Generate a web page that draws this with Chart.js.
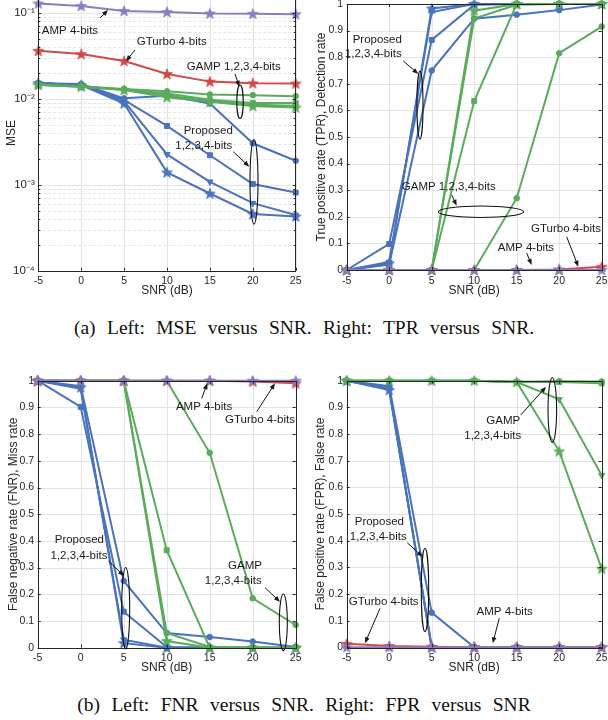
<!DOCTYPE html>
<html><head><meta charset="utf-8">
<script src="https://cdn.jsdelivr.net/npm/chart.js@4.4.1/dist/chart.umd.min.js"></script>
<style>
html,body{margin:0;padding:0;background:#fff;overflow:hidden;width:608px;height:720px;position:relative;}
.pane{position:absolute;}
.cap{position:absolute;left:0;width:608px;text-align:center;font-family:"Liberation Serif","Times New Roman",serif;font-size:19.5px;line-height:22px;color:#111;word-spacing:6.5px;white-space:nowrap;}
</style></head><body>
<div class="pane" style="left:0;top:-20px"><canvas id="c1" width="310" height="320"></canvas></div>
<div class="pane" style="left:300px;top:-20px"><canvas id="c2" width="320" height="320"></canvas></div>
<div class="pane" style="left:0;top:350px"><canvas id="c3" width="310" height="330"></canvas></div>
<div class="pane" style="left:300px;top:350px"><canvas id="c4" width="320" height="330"></canvas></div>
<div class="cap" style="top:317px">(a) Left: MSE versus SNR. Right: TPR versus SNR.</div>
<div class="cap" style="top:694px">(b) Left: FNR versus SNR. Right: FPR versus SNR</div>
<script>
// ---------- data ----------
const snr = [-5, 0, 5, 10, 15, 20, 25];
const snrTickLabels = ['-5', '0', '5', '10', '15', '20', '25'];
const mseTickValues = [1e-4, 1e-3, 1e-2, 1e-1];
const mseTickLabels = ['10\u207B\u2074', '10\u207B\u00B3', '10\u207B\u00B2', '10\u207B\u00B9'];
const rateTickValues = [0, 0.1, 0.2, 0.3, 0.4, 0.5, 0.6, 0.7, 0.8, 0.9, 1];
const rateTickLabels = ['0', '0.1', '0.2', '0.3', '0.4', '0.5', '0.6', '0.7', '0.8', '0.9', '1'];

// MSE
const mseAMP    = [0.128, 0.120, 0.105, 0.102, 0.098, 0.097, 0.096];
const mseGTurbo = [0.036, 0.033, 0.0274, 0.0194, 0.0158, 0.0151, 0.0150];
const mseGAMP1  = [0.0146, 0.0140, 0.0130, 0.0122, 0.0112, 0.0110, 0.0107];
const mseGAMP2  = [0.0145, 0.0139, 0.0128, 0.0115, 0.0097, 0.0089, 0.0089];
const mseGAMP3  = [0.0145, 0.0138, 0.0127, 0.0109, 0.0094, 0.0085, 0.0083];
const mseGAMP4  = [0.0144, 0.0138, 0.0126, 0.0104, 0.0092, 0.0082, 0.0079];
const mseProp1  = [0.0151, 0.0148, 0.0101, 0.0108, 0.0088, 0.00303, 0.0019];
const mseProp2  = [0.0151, 0.0145, 0.0097, 0.00482, 0.0022, 0.00102, 0.00081];
const mseProp3  = [0.0151, 0.0144, 0.0093, 0.00225, 0.00108, 0.00061, 0.000445];
const mseProp4  = [0.0151, 0.0144, 0.0088, 0.00139, 0.00079, 0.000457, 0.000427];

// TPR
const tprAMP    = [0, 0, 0, 0, 0, 0, 0];
const tprGTurbo = [0, 0, 0, 0, 0, 0.002, 0.012];
const tprGAMP1  = [0, 0, 0, 0, 0.27, 0.815, 0.915];
const tprGAMP2  = [0, 0, 0, 0.635, 1, 1, 1];
const tprGAMP3  = [0, 0, 0, 0.945, 0.997, 1, 1];
const tprGAMP4  = [0, 0, 0, 0.975, 1, 1, 1];
const tprProp1  = [0, 0.02, 0.75, 0.945, 0.96, 0.977, 0.998];
const tprProp2  = [0, 0.098, 0.865, 0.997, 1, 1, 1];
const tprProp3  = [0, 0.03, 0.97, 1, 1, 1, 1];
const tprProp4  = [0, 0.025, 0.983, 1, 1, 1, 1];

// FNR
const fnrAMP    = [1, 1, 1, 1, 1, 1, 1];
const fnrGTurbo = [1, 1, 1, 1, 1, 0.997, 0.99];
const fnrGAMP1  = [1, 1, 1, 1, 0.73, 0.185, 0.085];
const fnrGAMP2  = [1, 1, 1, 0.365, 0, 0, 0];
const fnrGAMP3  = [1, 1, 1, 0.055, 0.003, 0, 0];
const fnrGAMP4  = [1, 1, 1, 0.025, 0, 0, 0];
const fnrProp1  = [1, 0.98, 0.25, 0.055, 0.04, 0.023, 0.003];
const fnrProp2  = [1, 0.902, 0.135, 0.003, 0, 0, 0];
const fnrProp3  = [1, 0.97, 0.03, 0, 0, 0, 0];
const fnrProp4  = [1, 0.975, 0.017, 0, 0, 0, 0];

// FPR
const fprAMP    = [0, 0, 0, 0, 0, 0, 0];
const fprGTurbo = [0.013, 0.005, 0.002, 0, 0, 0, 0];
const fprGAMP1  = [1, 1, 1, 1, 0.996, 0.998, 0.997];
const fprGAMP2  = [1, 1, 1, 1, 0.995, 0.995, 0.99];
const fprGAMP3  = [1, 1, 1, 1, 0.995, 0.93, 0.645];
const fprGAMP4  = [1, 1, 1, 1, 0.995, 0.735, 0.295];
const fprProp1  = [1, 0.98, 0.13, 0, 0, 0, 0];
const fprProp2  = [1, 0.975, 0, 0, 0, 0, 0];
const fprProp3  = [1, 0.97, 0, 0, 0, 0, 0];
const fprProp4  = [1, 0.965, 0, 0, 0, 0, 0];

// annotations (data coordinates)
const annotMSE = [
  {t:'text', x:-1.31, y:0.0618, s:'AMP 4-bits'},
  {t:'arrow', x1:2.19, y1:0.0867, x2:3.12, y2:0.1075},
  {t:'text', x:10.55, y:0.0453, s:'GTurbo 4-bits'},
  {t:'arrow', x1:6.27, y1:0.0368, x2:5.22, y2:0.0274},
  {t:'text', x:17.79, y:0.0236, s:'GAMP 1,2,3,4-bits'},
  {t:'arrow', x1:17.93, y1:0.01937, x2:18.43, y2:0.0138},
  {t:'ellipse', x:18.51, y:0.00923, rx:3.2, ry:16.7},
  {t:'text', x:14.81, y:0.00421, s:'Proposed'},
  {t:'text', x:14.28, y:0.00284, s:'1,2,3,4-bits'},
  {t:'arrow', x1:17.73, y1:0.00242, x2:19.59, y2:0.00162},
  {t:'ellipse', x:20.14, y:0.00108, rx:4, ry:42.3}
];
const annotTPR = [
  {t:'text', x:-1.4, y:0.867, s:'Proposed'},
  {t:'text', x:-1.87, y:0.811, s:'1,2,3,4-bits'},
  {t:'arrow', x1:1.66, y1:0.786, x2:3.42, y2:0.737},
  {t:'ellipse', x:3.62, y:0.62, rx:3, ry:34},
  {t:'text', x:7.01, y:0.311, s:'GAMP 1,2,3,4-bits'},
  {t:'arrow', x1:7.35, y1:0.282, x2:7.94, y2:0.242},
  {t:'ellipse', x:10.8, y:0.219, rx:42.7, ry:5.7},
  {t:'text', x:20.8, y:0.155, s:'GTurbo 4-bits'},
  {t:'arrow', x1:20.88, y1:0.125, x2:22.25, y2:0.0124},
  {t:'text', x:16.09, y:0.085, s:'AMP 4-bits'},
  {t:'arrow', x1:16.18, y1:0.063, x2:16.76, y2:0.019}
];
const annotFNR = [
  {t:'text', x:14.34, y:0.903, s:'AMP 4-bits'},
  {t:'arrow', x1:14.07, y1:0.934, x2:14.72, y2:0.99},
  {t:'text', x:20.85, y:0.853, s:'GTurbo 4-bits'},
  {t:'arrow', x1:20.47, y1:0.884, x2:22.59, y2:0.99},
  {t:'text', x:-0.16, y:0.403, s:'Proposed'},
  {t:'text', x:-0.2, y:0.345, s:'1,2,3,4-bits'},
  {t:'arrow', x1:3.21, y1:0.325, x2:5.03, y2:0.269},
  {t:'ellipse', x:5.23, y:0.148, rx:4, ry:40.7},
  {t:'text', x:19.1, y:0.306, s:'GAMP'},
  {t:'text', x:17.74, y:0.25, s:'1,2,3,4-bits'},
  {t:'arrow', x1:21.43, y1:0.225, x2:23.17, y2:0.172},
  {t:'ellipse', x:23.56, y:0.095, rx:4, ry:28.3}
];
const annotFPR = [
  {t:'text', x:13.42, y:0.849, s:'GAMP'},
  {t:'text', x:12.18, y:0.793, s:'1,2,3,4-bits'},
  {t:'arrow', x1:15.47, y1:0.871, x2:18.45, y2:0.977},
  {t:'ellipse', x:19.19, y:0.89, rx:4.3, ry:32.3},
  {t:'text', x:-1.16, y:0.469, s:'Proposed'},
  {t:'text', x:-1.28, y:0.415, s:'1,2,3,4-bits'},
  {t:'arrow', x1:2.13, y1:0.392, x2:3.94, y2:0.34},
  {t:'ellipse', x:4.21, y:0.215, rx:3.7, ry:41.7},
  {t:'text', x:-0.65, y:0.171, s:'GTurbo 4-bits'},
  {t:'arrow', x1:-1.08, y1:0.146, x2:-2.85, y2:0.015},
  {t:'text', x:13.59, y:0.134, s:'AMP 4-bits'},
  {t:'arrow', x1:12.95, y1:0.109, x2:12.18, y2:0.015}
];

// ---------- styles ----------
const BLUE = '#4a72bd', GREEN = '#5aab5c', RED = '#d04a4a', PURPLE = '#8a7cc2';
const INK = '#262626';
const FONT = '"Liberation Sans", Arial, Helvetica, sans-serif';

function starImage(color) {
  const c = document.createElement('canvas');
  c.width = 12; c.height = 12;
  const g = c.getContext('2d');
  g.beginPath();
  for (let k = 0; k < 10; k++) {
    const r = k % 2 === 0 ? 5.6 : 2.3;
    const a = -Math.PI / 2 + k * Math.PI / 5;
    const px = 6 + r * Math.cos(a), py = 6.4 + r * Math.sin(a);
    if (k === 0) g.moveTo(px, py); else g.lineTo(px, py);
  }
  g.closePath();
  g.fillStyle = color; g.fill();
  g.strokeStyle = color; g.lineWidth = 0.8; g.stroke();
  return c;
}
const MK = {
  circle: {style: 'circle', r: 2.8, rot: 0},
  square: {style: 'rect', r: 3.5, rot: 0},
  tri: {style: 'triangle', r: 3.6, rot: 180}
};
function series(label, vals, color, mk) {
  const star = mk === 'star';
  const m = star ? {style: starImage(color), r: 5, rot: 0} : MK[mk];
  return {
    label, data: vals.map((v, i) => ({x: snr[i], y: v})),
    borderColor: color, backgroundColor: color, borderWidth: 2,
    pointStyle: m.style, pointRadius: m.r, pointRotation: m.rot,
    pointBackgroundColor: color, pointBorderColor: color, pointBorderWidth: 1,
    tension: 0, clip: false
  };
}
function datasets(amp, gt, g1, g2, g3, g4, p1, p2, p3, p4) {
  return [
    series('AMP 4-bits', amp, PURPLE, 'star'),
    series('GTurbo 4-bits', gt, RED, 'star'),
    series('GAMP 4-bits', g4, GREEN, 'star'),
    series('GAMP 3-bits', g3, GREEN, 'tri'),
    series('GAMP 2-bits', g2, GREEN, 'square'),
    series('GAMP 1-bit', g1, GREEN, 'circle'),
    series('Proposed 4-bits', p4, BLUE, 'star'),
    series('Proposed 3-bits', p3, BLUE, 'tri'),
    series('Proposed 2-bits', p2, BLUE, 'square'),
    series('Proposed 1-bit', p1, BLUE, 'circle')
  ];
}

// ---------- plugins ----------
const framePlugin = {
  id: 'frame',
  beforeDatasetsDraw(chart, args, opts) {
    const {ctx, chartArea: a, scales: {x, y}} = chart;
    ctx.save();
    ctx.lineWidth = 1;
    ctx.strokeStyle = '#e4e4e4';
    x.ticks.forEach(t => {
      const px = Math.round(x.getPixelForValue(t.value)) + 0.5;
      ctx.beginPath(); ctx.moveTo(px, a.top); ctx.lineTo(px, a.bottom); ctx.stroke();
    });
    y.ticks.forEach(t => {
      const py = Math.round(y.getPixelForValue(t.value)) + 0.5;
      ctx.beginPath(); ctx.moveTo(a.left, py); ctx.lineTo(a.right, py); ctx.stroke();
    });
    if (opts.minor) {
      ctx.strokeStyle = '#e6e6e6';
      ctx.setLineDash([3, 2]);
      opts.minor.forEach(v => {
        const py = Math.round(y.getPixelForValue(v)) + 0.5;
        ctx.beginPath(); ctx.moveTo(a.left, py); ctx.lineTo(a.right, py); ctx.stroke();
      });
      ctx.setLineDash([]);
    }
    ctx.restore();
  },
  afterDatasetsDraw(chart, args, opts) {
    const {ctx, chartArea: a, scales: {x, y}} = chart;
    ctx.save();
    ctx.strokeStyle = INK; ctx.lineWidth = 1;
    x.ticks.forEach(t => {
      const px = Math.round(x.getPixelForValue(t.value)) + 0.5;
      ctx.beginPath(); ctx.moveTo(px, a.bottom); ctx.lineTo(px, a.bottom - 3);
      ctx.moveTo(px, a.top); ctx.lineTo(px, a.top + 3); ctx.stroke();
    });
    y.ticks.forEach(t => {
      const py = Math.round(y.getPixelForValue(t.value)) + 0.5;
      ctx.beginPath(); ctx.moveTo(a.left, py); ctx.lineTo(a.left + 3, py);
      ctx.moveTo(a.right, py); ctx.lineTo(a.right - 3, py); ctx.stroke();
    });
    if (opts.minor) {
      opts.minor.forEach(v => {
        const py = Math.round(y.getPixelForValue(v)) + 0.5;
        ctx.beginPath(); ctx.moveTo(a.left, py); ctx.lineTo(a.left + 2, py);
        ctx.moveTo(a.right, py); ctx.lineTo(a.right - 2, py); ctx.stroke();
      });
    }
    ctx.strokeRect(Math.round(a.left) + 0.5, Math.round(a.top) + 0.5,
                   Math.round(a.right - a.left), Math.round(a.bottom - a.top));
    ctx.restore();
  },
  afterDraw(chart, args, opts) {
    const items = opts.items || [];
    const {ctx, scales: {x, y}} = chart;
    ctx.save();
    ctx.fillStyle = '#1a1a1a'; ctx.strokeStyle = '#111';
    ctx.font = '11.5px ' + FONT;
    ctx.textAlign = 'center'; ctx.textBaseline = 'middle';
    items.forEach(it => {
      if (it.t === 'text') {
        ctx.fillText(it.s, x.getPixelForValue(it.x), y.getPixelForValue(it.y));
      } else if (it.t === 'arrow') {
        const x1 = x.getPixelForValue(it.x1), y1 = y.getPixelForValue(it.y1);
        const x2 = x.getPixelForValue(it.x2), y2 = y.getPixelForValue(it.y2);
        const ang = Math.atan2(y2 - y1, x2 - x1);
        ctx.lineWidth = 1;
        ctx.beginPath(); ctx.moveTo(x1, y1);
        ctx.lineTo(x2 - 4 * Math.cos(ang), y2 - 4 * Math.sin(ang)); ctx.stroke();
        ctx.beginPath();
        ctx.moveTo(x2, y2);
        ctx.lineTo(x2 - 6 * Math.cos(ang) + 2.4 * Math.sin(ang), y2 - 6 * Math.sin(ang) - 2.4 * Math.cos(ang));
        ctx.lineTo(x2 - 6 * Math.cos(ang) - 2.4 * Math.sin(ang), y2 - 6 * Math.sin(ang) + 2.4 * Math.cos(ang));
        ctx.closePath(); ctx.fill();
      } else if (it.t === 'ellipse') {
        ctx.lineWidth = 1.1;
        ctx.beginPath();
        ctx.ellipse(x.getPixelForValue(it.x), y.getPixelForValue(it.y), it.rx, it.ry, 0, 0, Math.PI * 2);
        ctx.stroke();
      }
    });
    ctx.restore();
  }
};

Chart.defaults.font.family = FONT;
Chart.defaults.color = INK;
Chart.defaults.animation = false;

function makeChart(id, sets, yScale, lay, annot, yTitle, minor) {
  const cfg = {
    type: 'line',
    data: {datasets: sets},
    options: {
      responsive: false, animation: false, devicePixelRatio: 1,
      layout: {padding: {left: 0, top: lay.top, right: lay.right, bottom: 0}},
      plugins: {legend: {display: false}, tooltip: {enabled: false}, frame: {items: annot, minor: minor}},
      scales: {
        x: {
          type: 'linear', min: -5, max: 25,
          afterBuildTicks: s => { s.ticks = snr.map(v => ({value: v})); },
          ticks: {callback: (v, i) => snrTickLabels[i], autoSkip: false, maxRotation: 0, padding: 4.5,
                  font: {size: 10.5}, color: INK},
          grid: {display: false, drawTicks: false},
          border: {display: false},
          title: {display: true, text: 'SNR (dB)', font: {size: 12}, color: INK, padding: {top: 0, bottom: lay.pb}},
          afterFit: s => { s.height = lay.xh; }
        },
        y: Object.assign({
          ticks: {autoSkip: false, padding: 3.5, font: {size: lay.ytf || 10.5}, color: INK},
          grid: {display: false, drawTicks: false},
          border: {display: false},
          title: {display: true, text: yTitle, font: {size: 12}, color: INK, padding: {top: lay.pt, bottom: 0}},
          afterFit: s => { s.width = lay.yw; }
        }, yScale)
      }
    },
    plugins: [framePlugin]
  };
  cfg.options.scales.y.ticks = Object.assign(cfg.options.scales.y.ticks, yScale.ticksExtra || {});
  return new Chart(document.getElementById(id), cfg);
}

const mseMinor = [];
for (let d = 0; d < mseTickValues.length - 1; d++)
  for (let m = 2; m <= 9; m++) mseMinor.push(mseTickValues[d] * m);

const logY = {
  type: 'logarithmic', min: 1e-4, max: Math.pow(10, -0.8),
  afterBuildTicks: s => { s.ticks = mseTickValues.map(v => ({value: v, major: true})); },
  ticksExtra: {callback: (v, i) => mseTickLabels[i]}
};
const rateY = () => ({
  type: 'linear', min: 0, max: 1,
  afterBuildTicks: s => { s.ticks = rateTickValues.map(v => ({value: v})); },
  ticksExtra: {callback: (v, i) => rateTickLabels[i]}
});

makeChart('c1',
  datasets(mseAMP, mseGTurbo, mseGAMP1, mseGAMP2, mseGAMP3, mseGAMP4, mseProp1, mseProp2, mseProp3, mseProp4),
  logY, {top: 15.5, right: 14.3, yw: 38.3, xh: 29.3, pb: 2.4, pt: 4.5, ytf: 11.5}, annotMSE, 'MSE', mseMinor);
makeChart('c2',
  datasets(tprAMP, tprGTurbo, tprGAMP1, tprGAMP2, tprGAMP3, tprGAMP4, tprProp1, tprProp2, tprProp3, tprProp4),
  rateY(), {top: 24, right: 18.3, yw: 46.7, xh: 30, pb: 2.4, pt: 14.5}, annotTPR, 'True positive rate (TPR), Detection rate', null);
makeChart('c3',
  datasets(fnrAMP, fnrGTurbo, fnrGAMP1, fnrGAMP2, fnrGAMP3, fnrGAMP4, fnrProp1, fnrProp2, fnrProp3, fnrProp4),
  rateY(), {top: 30.7, right: 14.3, yw: 37.7, xh: 32.3, pb: 5.4, pt: 6.1}, annotFNR, 'False negative rate (FNR), Miss rate', null);
makeChart('c4',
  datasets(fprAMP, fprGTurbo, fprGAMP1, fprGAMP2, fprGAMP3, fprGAMP4, fprProp1, fprProp2, fprProp3, fprProp4),
  rateY(), {top: 30.7, right: 18.3, yw: 46.7, xh: 32.7, pb: 5.4, pt: 13.5}, annotFPR, 'False positive rate (FPR), False rate', null);
</script>
</body></html>
